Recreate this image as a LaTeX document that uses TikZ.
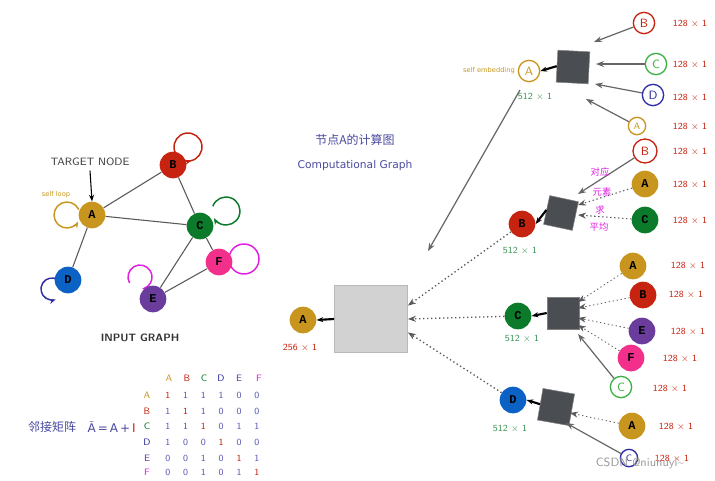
\documentclass[tikz,border=0pt]{standalone}
\usepackage{fontspec}
\setmainfont{DejaVu Sans}
\newfontfamily\cjk{Noto Sans CJK SC}
\newfontfamily\mono{Liberation Mono}
\usetikzlibrary{arrows.meta}
\definecolor{cgold}{HTML}{C8961E}
\definecolor{cred}{HTML}{C62410}
\definecolor{cgreen}{HTML}{0B7A2B}
\definecolor{cblue}{HTML}{0C62C4}
\definecolor{cpurple}{HTML}{6A3C9C}
\definecolor{cpink}{HTML}{F2308C}
\definecolor{cgreenl}{HTML}{3CB043}
\definecolor{cnavy}{HTML}{2E2EA6}
\definecolor{cmag}{HTML}{E020E0}
\definecolor{cink}{HTML}{4A4AA0}
\definecolor{cbox}{HTML}{4A4D52}
\begin{document}
\begin{tikzpicture}[x=0.75pt,y=-0.75pt,
  f/.style={circle,fill=#1,draw=none,minimum size=20pt,inner sep=0pt,font=\mono\bfseries\small},
  o/.style={circle,draw=#1,line width=1pt,fill=white,minimum size=16pt,inner sep=0pt,text=#1,font=\sffamily\small},
  edge/.style={draw=gray!70!black,line width=0.8pt},
  dim/.style={text=cred,font=\sffamily\scriptsize},
  dimg/.style={text=cgreen!80!white,font=\sffamily\scriptsize},
  ga/.style={draw=gray!80!black,line width=0.9pt,-{Stealth[length=6pt]}},
  da/.style={draw=gray!70!black,line width=1pt,dotted,-{Stealth[length=6pt]}},
  dbox/.style={fill=cbox,draw=gray,minimum size=24pt,inner sep=0pt},
  ba/.style={line width=1.6pt,-{Stealth[length=5pt]}},
  loop/.style={line width=1.1pt,-{Stealth[length=5pt]}}]
\useasboundingbox (0,0) rectangle (715,480);
\fill[white] (0,0) rectangle (715,480);
% ---------- input graph loops
\coordinate (cA) at (67,215);
\coordinate (cB) at (188,147);
\coordinate (cC) at (226,211);
\coordinate (cD) at (52,289);
\coordinate (cE) at (140,277);
\coordinate (cF) at (244,259);
\draw[loop,cgold] (cA) ++(-25:13) arc[start angle=-25,end angle=-330,radius=13];
\draw[loop,cred] (cB) ++(170:14) arc[start angle=170,end angle=-285,radius=14];
\draw[loop,cgreen] (cC) ++(200:14) arc[start angle=200,end angle=510,radius=14];
\draw[loop,cnavy] (cD) ++(10:11) arc[start angle=10,end angle=-290,radius=11];
\draw[loop,cmag] (cE) ++(150:12) arc[start angle=150,end angle=440,radius=12];
\draw[loop,cmag] (cF) ++(200:15) arc[start angle=200,end angle=-200,radius=15];
\node[f=cgold] (gA) at (92,215) {A};
\node[f=cred] (gB) at (173,165) {B};
\node[f=cgreen] (gC) at (200,226) {C};
\node[f=cblue] (gD) at (68,280) {D};
\node[f=cpurple] (gE) at (153,299) {E};
\node[f=cpink] (gF) at (219,262) {F};
\draw[edge] (gA)--(gB) (gA)--(gC) (gA)--(gD) (gB)--(gC) (gC)--(gE) (gC)--(gF) (gE)--(gF);
\node[font=\sffamily\footnotesize,text=black!75] (tn) at (90,162) {TARGET NODE};
\draw[line width=0.8pt,-{Stealth[length=5pt]}] (tn.south) -- (gA.north);
\node[text=cgold,font=\tiny] (sl) at (56,195) {self loop};
\node[font=\sffamily\bfseries\footnotesize,text=black!80] (ig) at (140,338) {INPUT GRAPH};
% ---------- matrix
\node[text=cink,font=\cjk\small] (adj) at (52,427) {邻接矩阵};
\node[text=cink,font=\small,anchor=west] (adj2) at (83,427) {$\tilde{\mathrm{A}}$\,=\,A\,+\,\textcolor{cred}{I}};
\foreach \l/\c/\x in {A/cgold/169,B/cred/187,C/cgreen/204,D/cnavy/221,E/cpurple/239,F/cmag/259}{
  \node[text=\c,font=\sffamily\scriptsize] (col\l) at (\x,378) {\l};}
\foreach \l/\c/\y/\r in {A/cgold/395/{1,1,1,1,0,0},B/cred/411/{1,1,1,0,0,0},C/cgreen/426/{1,1,1,0,1,1},D/cnavy/442/{1,0,0,1,0,0},E/cpurple/458/{0,0,1,0,1,1},F/cmag/472/{0,0,1,0,1,1}}{
  \node[text=\c,font=\sffamily\scriptsize] (row\l) at (147,\y) {\l};
  \foreach \v [count=\i] in \r {
    \pgfmathsetmacro{\xx}{150+\i*17.8}
    \node[font=\sffamily\scriptsize,text=cnavy!80] (m\l\i) at (\xx,\y) {\v};}
}
\foreach \l/\i in {A/1,B/2,C/3,D/4,E/5,F/6}{\node[font=\sffamily\scriptsize,text=cred,fill=white,inner sep=1pt] at (m\l\i) {1};}
% ---------- computational graph
\node[text=cink,font=\cjk\small] (t1) at (355,140) {节点A的计算图};
\node[text=cink,font=\footnotesize] (t2) at (355,166) {Computational Graph};
\node[fill=gray!35,draw=gray!55,minimum width=55pt,minimum height=50pt] (big) at (371,319) {};
\node[f=cgold] (rA) at (303,320) {A};
\node[dim] (d256) at (300,347) {256 × 1};
\draw[ba] (big.west) -- (rA.east);
% top block
\node[dbox,rotate=-3] (b1) at (573,67) {};
\node[o=cgold] (sA) at (529,71) {A};
\draw[ba] (b1.west) -- (sA.east);
\node[text=cgold,font=\tiny] (se) at (489,71) {self embedding};
\node[dimg] at (535,96) {512 × 1};
\node[o=cred] (l1B) at (644,23) {B};
\node[o=cgreenl] (l1C) at (656,64) {C};
\node[o=cnavy] (l1D) at (653,95) {D};
\node[o=cgold,minimum size=13pt,font=\sffamily\scriptsize] (l1A) at (637,126) {A};
\draw[ga] (l1B) -- (594,42);
\draw[ga] (l1C) -- (596,64);
\draw[ga] (l1D) -- (595,84);
\draw[ga] (l1A) -- (586,99);
\foreach \y in {23,64,97,126}{\node[dim] at (690,\y) {128 × 1};}
\coordinate (s1) at (520,90);
\coordinate (s2) at (428,251);
\draw[ga] (s1) -- (s2);
% B block
\node[dbox,minimum size=22pt,rotate=-12] (b2) at (561,213) {};
\node[f=cred] (cB) at (522,224) {B};
\draw[ba] (b2.west) -- (cB.east);
\node[dimg] at (520,250) {512 × 1};
\node[o=cred,minimum size=18pt] (l2B) at (645,151) {B};
\node[f=cgold] (l2A) at (645,184) {A};
\node[f=cgreen] (l2C) at (645,220) {C};
\draw[ga] (l2B) -- (578,194);
\draw[da,line width=0.8pt] (l2A) -- (578,205);
\draw[da,line width=0.8pt] (l2C) -- (578,215);
\foreach \y in {151,184,220}{\node[dim] at (690,\y) {128 × 1};}
\node[text=cmag,font=\cjk\scriptsize] at (600,172) {对应};
\node[text=cmag,font=\cjk\scriptsize] at (602,192) {元素};
\node[text=cmag,font=\cjk\scriptsize] at (600,210) {求};
\node[text=cmag,font=\cjk\scriptsize] at (599,227) {平均};
% C block
\node[dbox] (b3) at (563,313) {};
\node[f=cgreen] (cC) at (518,316) {C};
\draw[ba] (b3.west) -- (cC.east);
\node[dimg] at (522,338) {512 × 1};
\node[f=cgold] (l3A) at (633,266) {A};
\node[f=cred] (l3B) at (643,295) {B};
\node[f=cpurple] (l3E) at (642,331) {E};
\node[f=cpink] (l3F) at (631,358) {F};
\node[o=cgreenl] (l3C) at (621,387) {C};
\draw[da,line width=0.6pt] (l3A) -- (578,302);
\draw[da,line width=0.6pt] (l3B) -- (578,308);
\draw[da,line width=0.6pt] (l3E) -- (578,318);
\draw[da,line width=0.6pt] (l3F) -- (578,325);
\draw[ga] (l3C) -- (578,334);
\foreach \y/\x in {265/688,294/686,331/688,358/680,388/670}{\node[dim] at (\x,\y) {128 × 1};}
% D block
\node[dbox,rotate=-10] (b4) at (556,407) {};
\node[f=cblue] (cD) at (513,400) {D};
\draw[ba] (b4.west) -- (cD.east);
\node[dimg] at (510,428) {512 × 1};
\node[f=cgold] (l4A) at (632,426) {A};
\node[o=cnavy,minimum size=13pt,font=\sffamily\scriptsize] (l4C) at (629,458) {C};
\draw[da,line width=0.6pt] (l4A) -- (570,413);
\draw[ga] (l4C) -- (566,423);
\foreach \y/\x in {426/676,458/672}{\node[dim] at (\x,\y) {128 × 1};}
% dotted arrows to big box
\draw[da] (cB) -- (big.20);
\draw[da] (cC) -- (big.east);
\draw[da] (cD) -- (big.-20);
\node[text=gray!80,font=\sffamily\small] (wm) at (640,463) {CSDN @niuhuyi\textasciitilde};
\end{tikzpicture}
\end{document}
